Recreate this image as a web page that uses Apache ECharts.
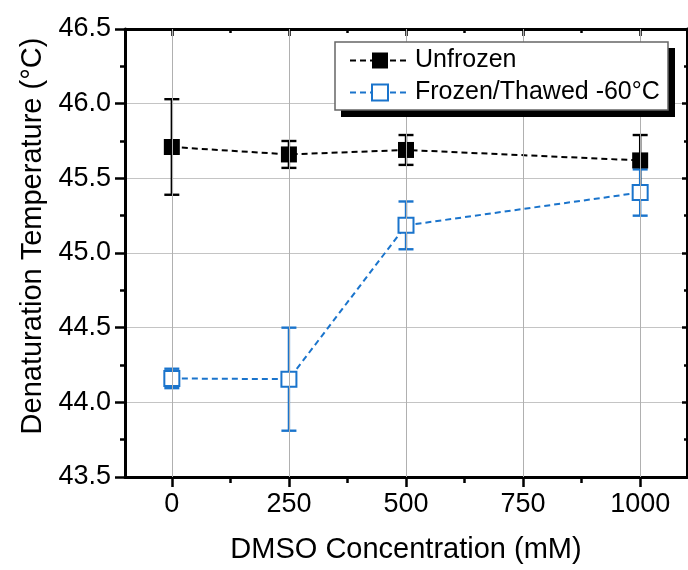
<!DOCTYPE html>
<html>
<head>
<meta charset="utf-8">
<script src="https://cdn.jsdelivr.net/npm/echarts@6/dist/echarts.min.js"></script>
<style>
html,body{margin:0;padding:0;background:#fff;}
#chart{width:688px;height:570px;}
</style>
</head>
<body>
<div id="chart"></div>
<script>
// ---- data ----
const dmso = [0, 250, 500, 1000];
const unfrozen = [45.71, 45.66, 45.69, 45.62];
const unfrozenErr = [0.32, 0.09, 0.10, 0.17];
const frozen = [44.16, 44.155, 45.185, 45.405];
const frozenErr = [0.065, 0.345, 0.16, 0.155];
const xMajorTicks = [0, 250, 500, 750, 1000];
const xMinorTicks = [125, 375, 625, 875];
const seriesNames = ['Unfrozen', 'Frozen/Thawed -60°C'];
const xTitle = 'DMSO Concentration (mM)';
const yTitle = 'Denaturation Temperature (°C)';

const FONT = 'Liberation Sans, Arial, sans-serif';
const BLUE = '#1a74cc';
const chart = echarts.init(document.getElementById('chart'), null, {renderer: 'canvas'});

function errRender(color) {
  return function (params, api) {
    const x = api.value(0), lo = api.value(1), hi = api.value(2);
    const a = api.coord([x, lo]), b = api.coord([x, hi]);
    const hw = 7.5;
    const st = {stroke: color, lineWidth: 2.4};
    return {
      type: 'group',
      children: [
        {type: 'line', shape: {x1: a[0], y1: a[1], x2: b[0], y2: b[1]}, style: st},
        {type: 'line', shape: {x1: a[0] - hw, y1: a[1], x2: a[0] + hw, y2: a[1]}, style: st},
        {type: 'line', shape: {x1: b[0] - hw, y1: b[1], x2: b[0] + hw, y2: b[1]}, style: st}
      ]
    };
  };
}

const axisLineStyle = {color: '#000', width: 3};
const tickStyle = {color: '#000', width: 2.5};

const option = {
  animation: false,
  backgroundColor: '#fff',
  grid: {left: 125, right: 1, top: 29, bottom: 93, containLabel: false},
  graphic: [
    {type: 'rect', z: 20, shape: {x: 341, y: 48, width: 334, height: 69}, style: {fill: '#000'}},
    {type: 'rect', z: 21, shape: {x: 335, y: 42, width: 333, height: 68},
      style: {fill: '#fff', stroke: '#666', lineWidth: 1.5}}
  ],
  legend: {
    orient: 'vertical',
    left: 349, top: 48, z: 30,
    padding: 0,
    itemGap: 7, itemWidth: 60, itemHeight: 20,
    textStyle: {fontSize: 25, color: '#000', fontFamily: FONT},
    data: seriesNames
  },
  xAxis: [
    {
      type: 'value', position: 'bottom', min: -100, max: 1100,
      axisLine: {show: true, onZero: false, lineStyle: axisLineStyle},
      axisTick: {show: true, inside: false, length: 10, lineStyle: tickStyle, customValues: xMajorTicks},
      axisLabel: {show: true, customValues: xMajorTicks, fontSize: 27, color: '#000', fontFamily: FONT, margin: 14,
        formatter: v => String(v)},
      splitLine: {show: false},
      name: xTitle, nameLocation: 'middle', nameGap: 58,
      nameTextStyle: {fontSize: 29, color: '#000', fontFamily: FONT}
    },
    {
      type: 'value', position: 'bottom', min: -100, max: 1100,
      axisLine: {show: false, onZero: false},
      axisTick: {show: true, inside: false, length: 6, lineStyle: tickStyle, customValues: xMinorTicks},
      axisLabel: {show: false}, splitLine: {show: false}
    },
    {
      type: 'value', position: 'top', min: -100, max: 1100,
      axisLine: {show: true, onZero: false, lineStyle: axisLineStyle},
      axisTick: {show: true, inside: true, length: 7, lineStyle: tickStyle, customValues: xMajorTicks},
      axisLabel: {show: false}, splitLine: {show: false}
    },
    {
      type: 'value', position: 'top', min: -100, max: 1100,
      axisLine: {show: false, onZero: false},
      axisTick: {show: true, inside: true, length: 4, lineStyle: tickStyle, customValues: xMinorTicks},
      axisLabel: {show: false}, splitLine: {show: false}
    }
  ],
  yAxis: [
    {
      type: 'value', position: 'left', min: 43.5, max: 46.5, interval: 0.5,
      axisLine: {show: true, onZero: false, lineStyle: axisLineStyle},
      axisTick: {show: true, inside: false, length: 10, lineStyle: tickStyle},
      minorTick: {show: true, splitNumber: 2, length: 5, lineStyle: tickStyle},
      axisLabel: {show: true, fontSize: 27, color: '#000', fontFamily: FONT, margin: 14,
        formatter: v => v.toFixed(1)},
      splitLine: {show: true, lineStyle: {color: '#c4c4c4', width: 1}},
      name: yTitle, nameLocation: 'middle', nameGap: 74, nameRotate: 90,
      nameTextStyle: {fontSize: 29, color: '#000', fontFamily: FONT, padding: [0, 0, 0, 34]}
    },
    {
      type: 'value', position: 'right', min: 43.5, max: 46.5, interval: 0.5,
      axisLine: {show: true, onZero: false, lineStyle: axisLineStyle},
      axisTick: {show: true, inside: true, length: 5, lineStyle: tickStyle},
      minorTick: {show: true, splitNumber: 2, length: 3, lineStyle: tickStyle},
      axisLabel: {show: false}, splitLine: {show: false}
    }
  ],
  series: [
    {
      name: 'grid-x', type: 'line', data: [], z: 0, silent: true,
      markLine: {
        silent: true, symbol: 'none', label: {show: false},
        lineStyle: {color: '#b0b0b0', width: 1, type: 'solid'},
        emphasis: {disabled: true},
        data: xMajorTicks.map(v => ({xAxis: v}))
      }
    },
    {
      name: 'err-unfrozen', type: 'custom', z: 1,
      renderItem: errRender('#000'),
      encode: {x: 0, y: [1, 2]},
      data: dmso.map((x, i) => [x, unfrozen[i] - unfrozenErr[i], unfrozen[i] + unfrozenErr[i]])
    },
    {
      name: 'err-frozen', type: 'custom', z: 2,
      renderItem: errRender(BLUE),
      encode: {x: 0, y: [1, 2]},
      data: dmso.map((x, i) => [x, frozen[i] - frozenErr[i], frozen[i] + frozenErr[i]])
    },
    {
      name: seriesNames[1], type: 'line', z: 3,
      data: dmso.map((x, i) => [x, frozen[i]]),
      symbol: 'rect', symbolSize: 15,
      itemStyle: {color: '#fff', borderColor: BLUE, borderWidth: 2},
      lineStyle: {color: BLUE, width: 2, type: [6, 4]},
      color: BLUE
    },
    {
      name: seriesNames[0], type: 'line', z: 4,
      data: dmso.map((x, i) => [x, unfrozen[i]]),
      symbol: 'rect', symbolSize: 16,
      itemStyle: {color: '#000', borderColor: '#000', borderWidth: 0},
      lineStyle: {color: '#000', width: 2, type: [6, 4]},
      color: '#000'
    }
  ]
};
chart.setOption(option);
</script>
</body>
</html>
